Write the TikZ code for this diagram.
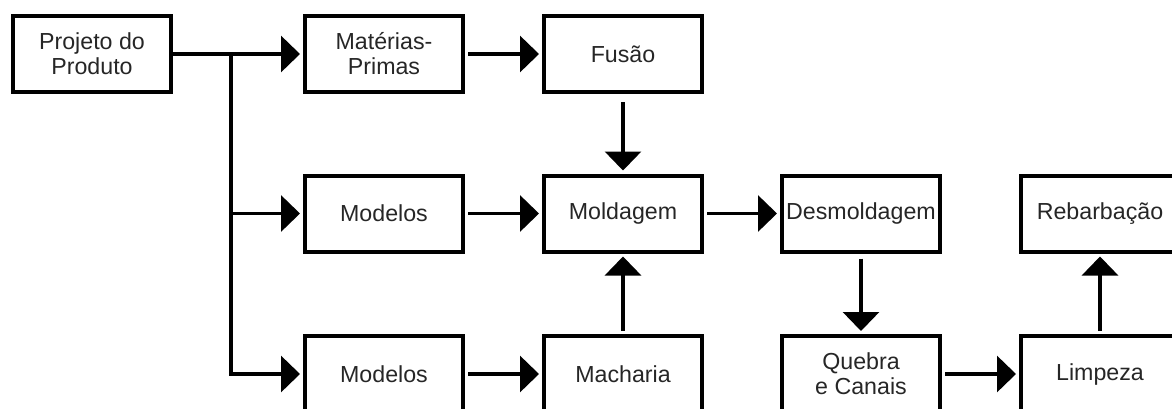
\documentclass[tikz,border=0pt]{standalone}
\usepackage{fontspec}
\setmainfont{Liberation Sans}
\usepackage{xcolor}
\usetikzlibrary{arrows.meta}

\begin{document}
\begin{tikzpicture}[x=0.5pt, y=-0.5pt,
		etapa/.style={draw=black, line width=2pt, minimum width=79pt, minimum height=38pt, align=center, inner sep=0pt, font=\fontsize{11.6}{12.5}\selectfont, text=black!85},
		fluxo/.style={line width=1.6pt, -{Triangle[length=9.5pt, width=18pt]}, shorten <=1.5pt, shorten >=1.5pt},
		linha/.style={line width=1.6pt}]
		\clip (0,0) rectangle (1172,408);
		\node[etapa] (projeto) at (92,54) {Projeto do\\Produto};
		\node[etapa] (materias) at (384,54) {Matérias-\\Primas};
		\node[etapa] (fusao) at (623,54) {Fusão};
		\node[etapa] (modelosA) at (384,213.5) {Modelos};
		\node[etapa] (moldagem) at (623,213.5) {Moldagem};
		\node[etapa] (desmoldagem) at (861,213.5) {Desmoldagem};
		\node[etapa] (rebarbacao) at (1100,213.5) {Rebarbação};
		\node[etapa] (modelosB) at (384,374) {Modelos};
		\node[etapa] (macharia) at (623,374) {Macharia};
		\node[etapa] (quebra) at (861,374) {Quebra\\e Canais};
		\node[etapa] (limpeza) at (1100,374) {Limpeza};
		\coordinate (ramo) at (231,54);
		\draw[fluxo, shorten <=0pt] (projeto.east) -- (materias.west);
		\draw[fluxo, shorten <=0pt] (ramo) |- (modelosB.west);
		\draw[fluxo, shorten <=0pt] (ramo |- modelosA.west) -- (modelosA.west);
		\draw[fluxo] (materias.east) -- (fusao.west);
		\draw[fluxo, shorten <=4pt] (fusao.south) -- (moldagem.north);
		\draw[fluxo] (modelosA.east) -- (moldagem.west);
		\draw[fluxo] (modelosB.east) -- (macharia.west);
		\draw[fluxo] (macharia.north) -- (moldagem.south);
		\draw[fluxo] (moldagem.east) -- (desmoldagem.west);
		\draw[fluxo, shorten <=2.5pt] (desmoldagem.south) -- (quebra.north);
		\draw[fluxo] (quebra.east) -- (limpeza.west);
		\draw[fluxo] (limpeza.north) -- (rebarbacao.south);
\end{tikzpicture}
\end{document}
